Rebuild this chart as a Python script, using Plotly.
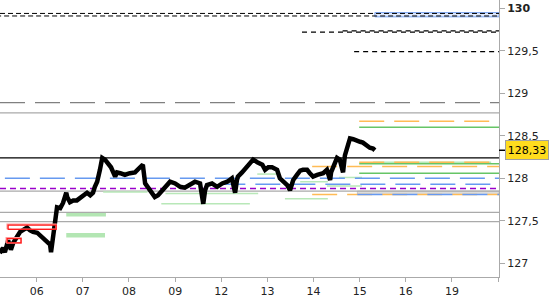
import plotly.graph_objects as go

# ---- price series (day index, price) ----
t_price = [0.20, 0.27, 0.31, 0.38, 0.44, 0.49, 0.57, 0.64, 0.70, 0.79, 0.85, 0.92, 1.01, 1.07, 1.14,
           1.22, 1.29, 1.31, 1.35, 1.40, 1.44, 1.51, 1.57, 1.64, 1.66, 1.72, 1.79, 1.87, 1.94, 2.00,
           2.09, 2.16, 2.22, 2.26, 2.31, 2.37, 2.42, 2.48, 2.55, 2.61, 2.70, 2.74, 2.81, 2.91, 3.02,
           3.13, 3.24, 3.30, 3.35, 3.41, 3.50, 3.56, 3.63, 3.72, 3.82, 3.89, 4.00, 4.11, 4.21, 4.32,
           4.43, 4.54, 4.61, 4.65, 4.69, 4.80, 4.91, 5.02, 5.13, 5.23, 5.30, 5.34, 5.36, 5.45, 5.52,
           5.62, 5.69, 5.78, 5.89, 5.95, 6.02, 6.10, 6.21, 6.27, 6.34, 6.43, 6.49, 6.56, 6.64, 6.71,
           6.77, 6.86, 6.92, 6.99, 7.08, 7.14, 7.21, 7.29, 7.36, 7.38, 7.42, 7.51, 7.57, 7.64, 7.68,
           7.73, 7.79, 7.86, 7.94, 8.01, 8.07, 8.16, 8.22, 8.29, 8.33]
price = [127.12, 127.18, 127.13, 127.27, 127.16, 127.24, 127.31, 127.37, 127.39, 127.42, 127.39, 127.37, 127.36, 127.33, 127.30,
         127.27, 127.22, 127.13, 127.30, 127.54, 127.66, 127.65, 127.71, 127.83, 127.78, 127.72, 127.74, 127.74, 127.77, 127.80,
         127.83, 127.80, 127.83, 127.90, 127.96, 128.10, 128.24, 128.22, 128.18, 128.13, 128.02, 128.07, 128.06, 128.04, 128.06,
         128.07, 128.13, 128.16, 127.94, 127.90, 127.84, 127.78, 127.80, 127.86, 127.92, 127.96, 127.94, 127.90, 127.89, 127.92,
         127.96, 127.94, 127.70, 127.86, 127.92, 127.94, 127.90, 127.94, 127.96, 128.00, 127.83, 127.98, 128.02, 128.07, 128.12,
         128.19, 128.22, 128.19, 128.16, 128.10, 128.13, 128.13, 128.10, 128.00, 127.96, 127.92, 127.86, 127.98, 128.04, 128.09,
         128.10, 128.10, 128.06, 128.02, 128.04, 128.05, 128.06, 128.10, 127.98, 128.07, 128.12, 128.24, 128.22, 128.07, 128.27,
         128.37, 128.47, 128.46, 128.45, 128.43, 128.42, 128.38, 128.36, 128.35, 128.33]
last_price = 128.33
last_label = "128,33"

# ---- x axis (trading days) ----
day_pos = [1, 2, 3, 4, 5, 6, 7, 8, 9, 10, 11]
day_labels = ["06", "07", "08", "09", "12", "13", "14", "15", "16", "19", ""]
x_min, x_max = 0.204, 11.02

# ---- y axis ----
y_ticks = [127, 127.5, 128, 128.5, 129, 129.5, 130]
y_labels = ["127", "127,5", "128", "128,5", "129", "129,5", "<b>130</b>"]
y_min, y_max = 126.839, 130.098

# ---- horizontal levels: (price, start, end) per group ----
lv_black_fine = [(129.94, 0.204, x_max), (129.91, 0.12, x_max)]
lv_black_dash = [(129.72, 6.75, x_max), (129.735, 7.63, x_max), (129.49, 7.88, x_max)]
lv_gray_long = [(128.89, 0.204, x_max)]
lv_gray_solid = [(128.77, 0.204, x_max), (127.85, 0.204, x_max), (127.60, 0.204, x_max), (127.49, 0.204, x_max)]
lv_black_solid = [(128.24, 0.204, x_max)]
lv_orange = [(128.67, 7.99, 10.85), (128.19, 7.99, x_max), (128.14, 6.97, x_max), (127.81, 6.97, x_max)]
lv_green = [(128.60, 7.99, x_max), (128.17, 7.99, x_max), (128.06, 7.99, x_max)]
lv_lightgreen = [(128.19, 8.29, 10.85), (127.84, 2.44, 3.40), (127.82, 3.79, 5.80), (127.70, 3.70, 5.62),
                 (128.05, 5.78, 6.21), (127.96, 6.71, 7.31), (127.91, 7.29, 8.05), (127.76, 6.38, 7.31),
                 (128.01, 7.55, 8.05), (128.07, 2.70, 3.02)]
lv_lightgreen_thick = [(127.57, 1.64, 2.50), (127.33, 1.64, 2.48)]
lv_blue = [(128.00, 0.31, x_max), (127.93, 4.98, x_max), (127.81, 7.95, x_max)]
lv_purple = [(127.88, 0.204, x_max)]

# ---- rectangles: (t0, t1, p0, p1) ----
rect_blue = [(8.33, x_max, 129.90, 129.95)]
rect_gray = [(7.95, x_max, 127.81, 127.85)]
rect_red = [(0.38, 1.42, 127.40, 127.45), (0.36, 0.66, 127.24, 127.29)]

fig = go.Figure()


def add_rects(rects, fill, line, width=1):
    for (a, b, p0, p1) in rects:
        fig.add_trace(go.Scatter(x=[a, b, b, a, a], y=[p0, p0, p1, p1, p0], mode="lines",
                                 fill="toself" if fill else None, fillcolor=fill,
                                 line=dict(color=line, width=width), hoverinfo="skip"))


def add_levels(levels, color, width, dash="solid"):
    for (p, a, b) in levels:
        fig.add_trace(go.Scatter(x=[a, b], y=[p, p], mode="lines",
                                 line=dict(color=color, width=width, dash=dash), hoverinfo="skip"))


add_rects(rect_blue, "rgba(215,228,252,0.8)", "#7aa4f2")
add_rects(rect_gray, "#dcdcdc", "#c8c8c8")
add_levels(lv_black_fine, "#000000", 1, "5px,3px")
add_levels(lv_black_dash, "#000000", 1.2, "5px,4px")
add_levels(lv_gray_long, "#808080", 1.2, "25px,10px")
add_levels(lv_gray_solid, "#aaaaaa", 1.3)
add_levels(lv_lightgreen_thick[:1], "#b3e6b3", 3.5)
add_levels(lv_lightgreen_thick[1:], "#b3e6b3", 4.5)
add_levels(lv_lightgreen, "#b8e8b8", 1.5)
add_levels(lv_green, "#66c566", 1.5)
add_levels(lv_orange, "#ffbb55", 1.5, "25px,10px")
add_levels(lv_blue, "#6699f0", 1.5, "25px,10px")
add_levels(lv_purple, "#9a00cc", 1.5, "6px,4px")
add_levels(lv_black_solid, "#000000", 1.3)

fig.add_trace(go.Scatter(x=t_price, y=price, mode="lines",
                         line=dict(color="#000000", width=4.5), hoverinfo="skip"))

# red boxes with a pink shadow
for (a, b, p0, p1) in rect_red:
    fig.add_trace(go.Scatter(x=[a - 0.02, b, b, a - 0.02, a - 0.02], y=[p0, p0, p1 + 0.01, p1 + 0.01, p0],
                             mode="lines", line=dict(color="#ff9a9a", width=1.5), hoverinfo="skip"))
add_rects(rect_red, None, "#ff1a1a", 1.3)

fig.add_shape(type="line", xref="paper", yref="y", x0=1.0, x1=1.012, y0=last_price, y1=last_price,
              line=dict(color="#000000", width=1.5))
fig.add_annotation(xref="paper", yref="y", x=505 / 499, y=last_price, xanchor="left", yanchor="middle",
                   text=last_label, showarrow=False, font=dict(family="DejaVu Sans", size=11, color="#000"),
                   bgcolor="#ffdc1e", bordercolor="#a0a0a0", borderwidth=1, borderpad=2, width=38, height=14)

fig.update_layout(
    width=550, height=300, margin=dict(l=0, r=51, t=0, b=23, autoexpand=False),
    paper_bgcolor="white", plot_bgcolor="white", showlegend=False,
    font=dict(family="DejaVu Sans", size=11, color="#222"),
    xaxis=dict(range=[x_min, x_max], tickvals=day_pos, ticktext=day_labels, showgrid=False, zeroline=False,
               showline=True, linecolor="#aaaaaa", linewidth=1, ticks="outside", ticklen=4, tickcolor="#aaaaaa",
               tickfont=dict(size=11, color="#222")),
    yaxis=dict(range=[y_min, y_max], side="right", tickvals=y_ticks, ticktext=y_labels, showgrid=False,
               zeroline=False, showline=True, linecolor="#aaaaaa", linewidth=1, ticks="outside", ticklen=5,
               tickcolor="#aaaaaa", tickfont=dict(size=11, color="#222")),
)

fig.write_html("out.html")
